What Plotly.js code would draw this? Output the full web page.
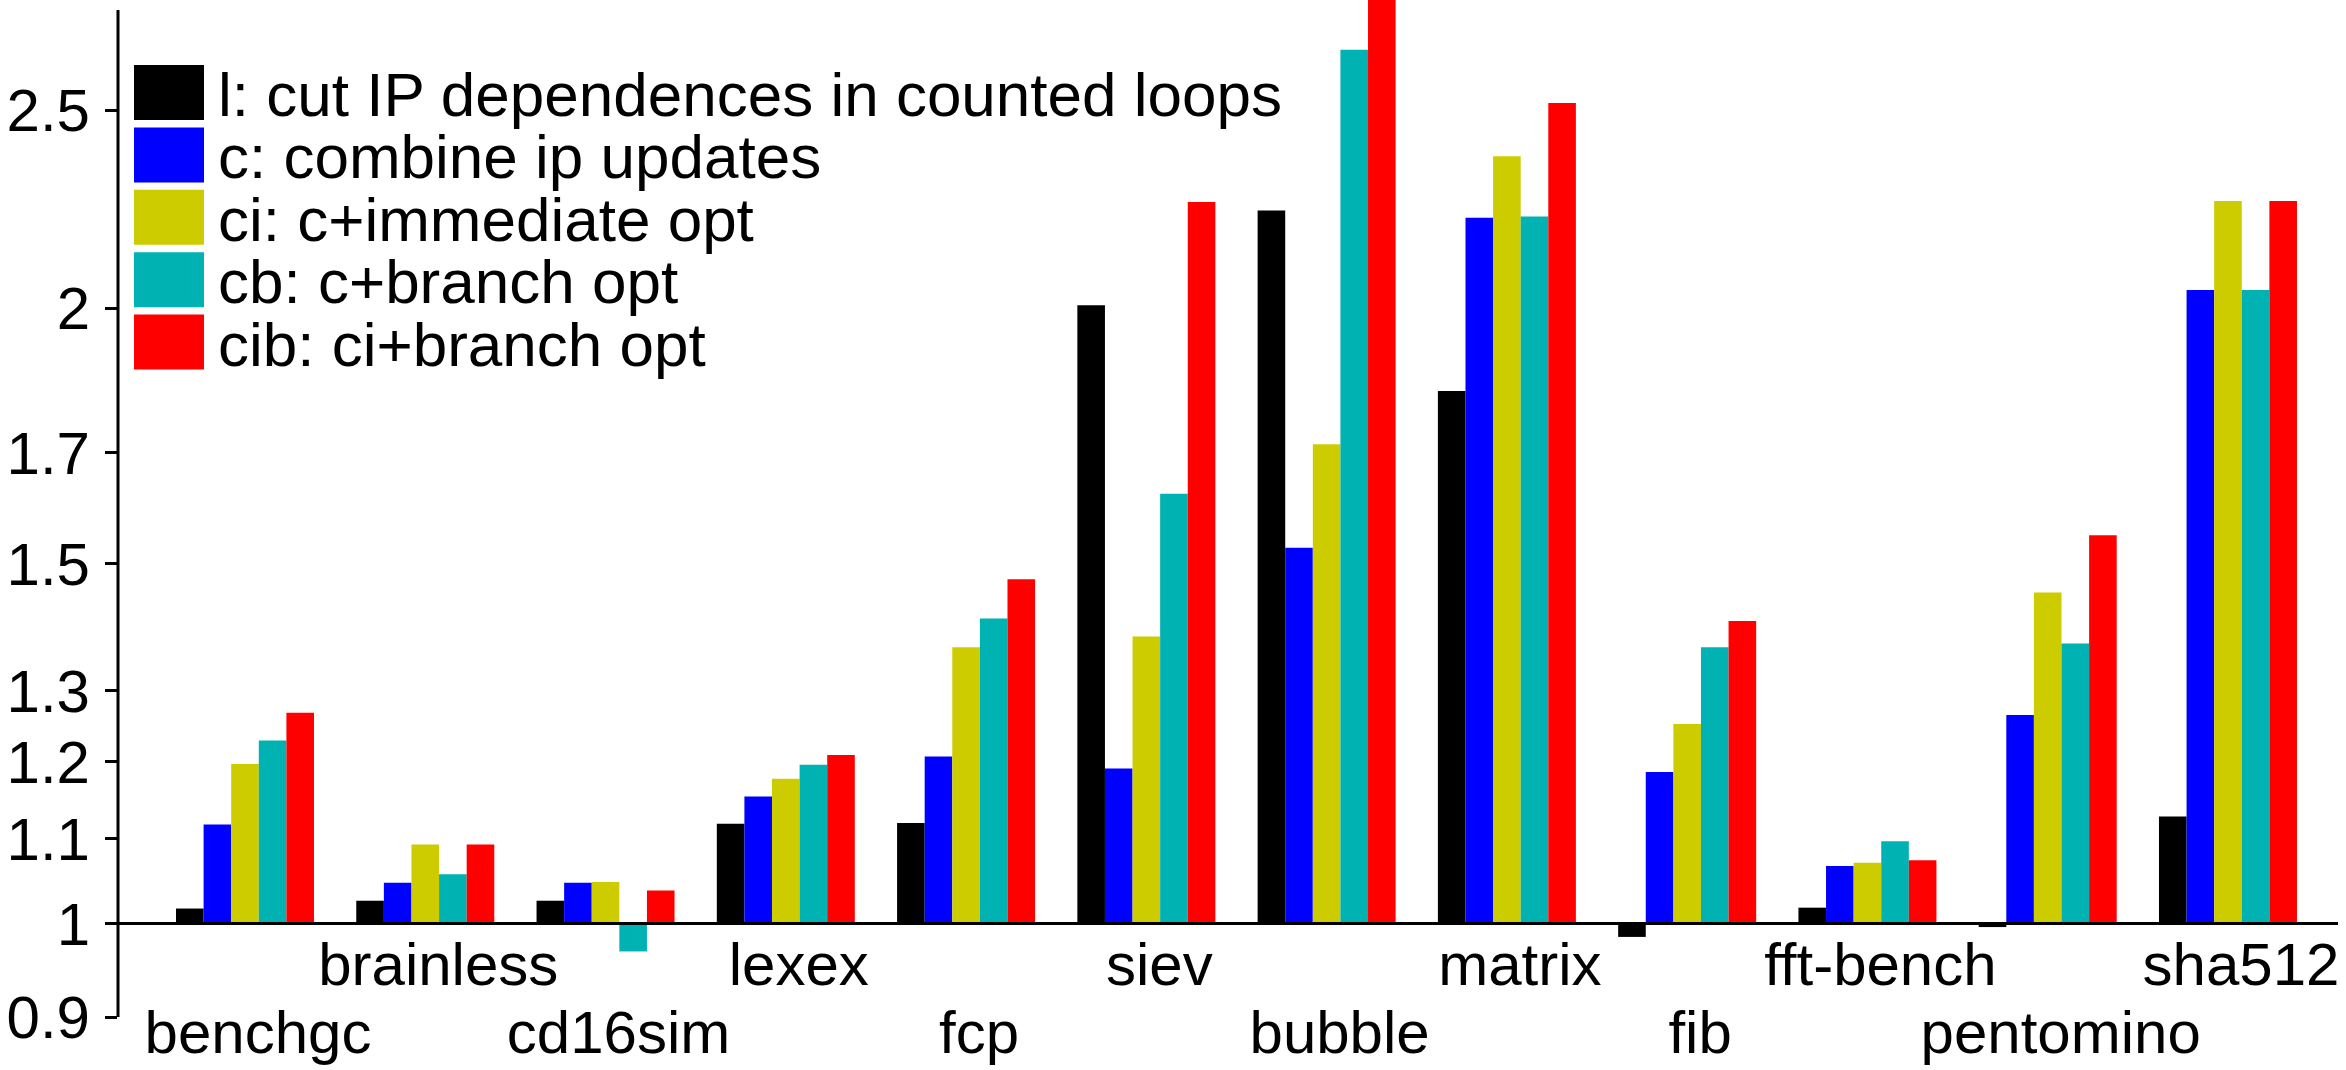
<!DOCTYPE html>
<html>
<head>
<meta charset="utf-8">
<script src="https://cdn.plot.ly/plotly-3.0.1.min.js"></script>
<style>
  html, body { margin: 0; padding: 0; background: #fff; }
  #chart { width: 2346px; height: 1070px; }
</style>
</head>
<body>
<div id="chart"></div>
<script>
// ---------- data ----------
const categories = ['benchgc', 'brainless', 'cd16sim', 'lexex', 'fcp', 'siev', 'bubble', 'matrix', 'fib', 'fft-bench', 'pentomino', 'sha512'];
const seriesNames = ['l: cut IP dependences in counted loops', 'c: combine ip updates', 'ci: c+immediate opt', 'cb: c+branch opt', 'cib: ci+branch opt'];
const seriesColors = ['#000000', '#0000ff', '#cccc00', '#00b2b2', '#ff0000'];
const valuesL   = [1.017, 1.026, 1.026, 1.119, 1.120, 2.007, 2.233, 1.822, 0.985, 1.018, 0.996, 1.128];
const valuesC   = [1.118, 1.047, 1.047, 1.154, 1.207, 1.191, 1.527, 2.215, 1.186, 1.067, 1.265, 2.042];
const valuesCI  = [1.197, 1.093, 1.048, 1.177, 1.365, 1.382, 1.716, 2.374, 1.252, 1.071, 1.452, 2.257];
const valuesCB  = [1.229, 1.057, 0.969, 1.196, 1.410, 1.623, 2.677, 2.218, 1.365, 1.097, 1.371, 2.042];
const valuesCIB = [1.268, 1.093, 1.038, 1.209, 1.474, 2.255, 2.950, 2.521, 1.406, 1.074, 1.549, 2.257];
const yTickVals = [0.9, 1, 1.1, 1.2, 1.3, 1.5, 1.7, 2, 2.5];
const yTickText = ['0.9', '1', '1.1', '1.2', '1.3', '1.5', '1.7', '2', '2.5'];

const allSeries = [valuesL, valuesC, valuesCI, valuesCB, valuesCIB];

// ---------- geometry ----------
const W = 2346, H = 1070;
const plotL = 118, plotR = 2338, plotT = 0, plotB = 1017;
const groupPitch = 180.27, firstCenter = 245;
const xLo = (plotL - firstCenter) / groupPitch;
const xHi = (plotR - firstCenter) / groupPitch;
const yLo = 0.9, yHi = 2.831;
const baseline = 1;
const axisPos = (Math.log10(baseline) - Math.log10(yLo)) / (Math.log10(yHi) - Math.log10(yLo));
const labelShift = 0.072;
const FONT = 'Liberation Sans, Arial, Helvetica, sans-serif';

const px2x = px => (px - plotL) / (plotR - plotL);
const py2y = py => (plotB - py) / (plotB - plotT);

const xIdx = categories.map((c, i) => i);

const traces = allSeries.map((vals, s) => ({
  type: 'bar',
  name: seriesNames[s],
  x: xIdx,
  y: vals.map(v => v - baseline),
  base: baseline,
  marker: { color: seriesColors[s], line: { width: 0 } },
  hoverinfo: 'skip',
  showlegend: false
}));
// empty helper trace so the second (label-only) x axis gets drawn
traces.push({ type: 'scatter', mode: 'markers', x: [null], y: [null], xaxis: 'x2', yaxis: 'y', hoverinfo: 'skip', showlegend: false });

const upperIdx = xIdx.filter(i => i % 2 === 1);
const lowerIdx = xIdx.filter(i => i % 2 === 0);

const shapes = [{
  type: 'line', xref: 'paper', yref: 'paper',
  x0: 0, x1: 0, y0: 0, y1: py2y(10),
  line: { color: '#000', width: 3 }
}];
const annotations = [];
const rowTop = 65, rowPitch = 62.4, swH = 55;
seriesNames.forEach((name, i) => {
  const top = rowTop + rowPitch * i;
  shapes.push({
    type: 'rect', xref: 'paper', yref: 'paper',
    x0: px2x(134), x1: px2x(204), y0: py2y(top + swH), y1: py2y(top),
    fillcolor: seriesColors[i], line: { width: 0 }
  });
  annotations.push({
    xref: 'paper', yref: 'paper', x: px2x(216), y: py2y(94.5 + rowPitch * i),
    xanchor: 'left', yanchor: 'middle', showarrow: false,
    text: name, font: { family: FONT, size: 62, color: '#000' }
  });
});

const tickFont = { family: FONT, size: 60, color: '#000' };

const layout = {
  width: W, height: H,
  margin: { l: plotL, r: W - plotR, t: plotT, b: H - plotB, pad: 0 },
  paper_bgcolor: '#fff', plot_bgcolor: '#fff',
  barmode: 'group', bargap: 0.2345, bargroupgap: 0,
  showlegend: false,
  xaxis: {
    range: [xLo, xHi], anchor: 'free', position: axisPos,
    showgrid: false, zeroline: false, showline: true, linewidth: 3, linecolor: '#000',
    ticks: '', tickvals: upperIdx.map(i => i + labelShift), ticktext: upperIdx.map(i => categories[i]),
    tickfont: tickFont, ticklabelstandoff: -12, fixedrange: true
  },
  xaxis2: {
    range: [xLo, xHi], overlaying: 'x', anchor: 'free', position: axisPos, side: 'bottom',
    showgrid: false, zeroline: false, showline: false,
    ticks: '', tickvals: lowerIdx.map(i => i + labelShift), ticktext: lowerIdx.map(i => categories[i]),
    tickfont: tickFont, ticklabelstandoff: 69, fixedrange: true
  },
  yaxis: {
    type: 'log', range: [Math.log10(yLo), Math.log10(yHi)],
    tickvals: yTickVals, ticktext: yTickText,
    ticks: 'outside', ticklen: 12, tickwidth: 3, tickcolor: '#000',
    showline: false, showgrid: false, zeroline: false,
    tickfont: tickFont, ticklabelstandoff: 3, fixedrange: true
  },
  shapes: shapes,
  annotations: annotations
};

Plotly.newPlot('chart', traces, layout, { displayModeBar: false, staticPlot: true });
</script>
</body>
</html>
